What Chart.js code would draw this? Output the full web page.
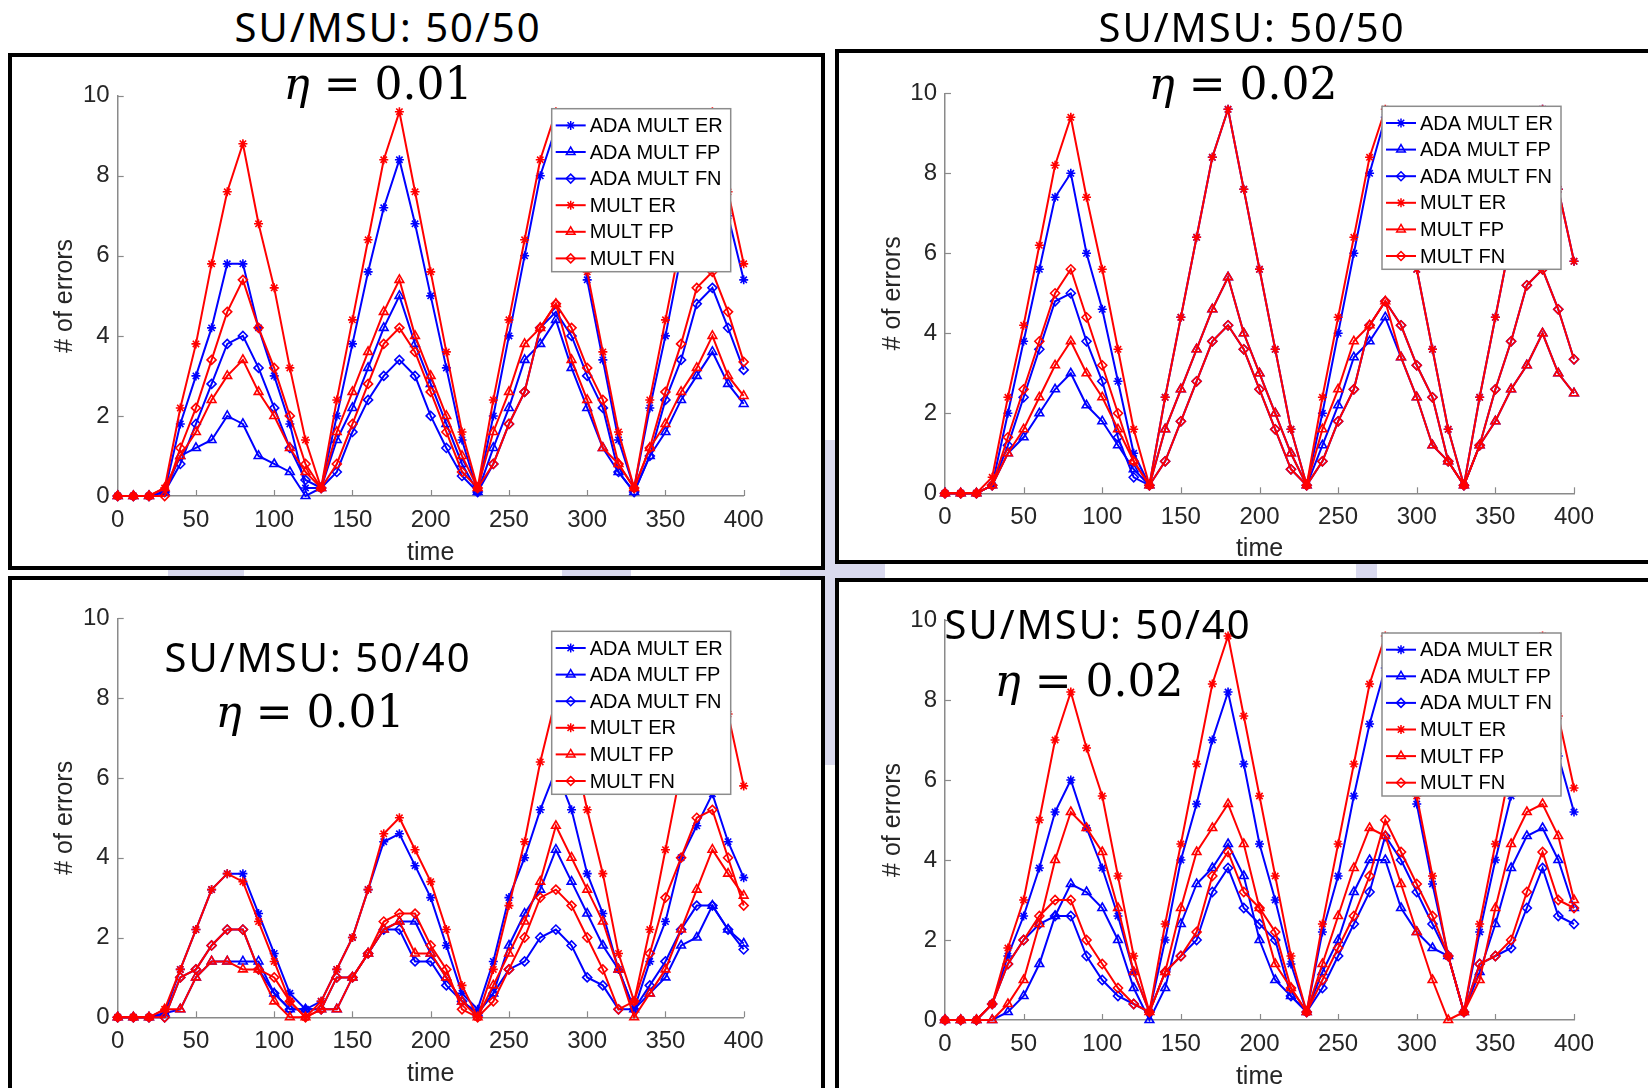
<!DOCTYPE html>
<html>
<head>
<meta charset="utf-8">
<title>Errors over time</title>
<script src="https://cdn.jsdelivr.net/npm/chart.js@4.4.1/dist/chart.umd.min.js"></script>
<style>
  body { margin: 0; }
  #page { position: relative; width: 1648px; height: 1088px; background: #fff; overflow: hidden; }
  .wash { position: absolute; background: #d9d9ee; }
  .frame { position: absolute; box-sizing: border-box; border: 4px solid #000; background: #fff; }
  canvas { position: absolute; }
  .note { position: absolute; transform: translate(-50%, -50%); white-space: nowrap; line-height: 1; color: #000; }
  .set { font-family: "Noto Sans", sans-serif; font-size: 40px; letter-spacing: 2px; }
  .eta { font-family: "DejaVu Serif", serif; font-size: 44px; }
  .eta i { font-style: italic; }
</style>
</head>
<body>
<div id="page">
  <!-- lavender backdrop peeking between the frames -->
  <div class="wash" style="left:168px; top:564px; width:76px; height:16px"></div>
  <div class="wash" style="left:562px; top:564px; width:69px; height:16px"></div>
  <div class="wash" style="left:780px; top:560px; width:105px; height:22px"></div>
  <div class="wash" style="left:1356px; top:560px; width:21px; height:22px"></div>
  <div class="wash" style="left:821px; top:440px; width:18px; height:325px"></div>

  <div class="frame" style="left:8px; top:53px; width:817px; height:517px"></div>
  <div class="frame" style="left:835px; top:49px; width:830px; height:515px"></div>
  <div class="frame" style="left:8px; top:576px; width:817px; height:520px"></div>
  <div class="frame" style="left:835px; top:578px; width:830px; height:520px"></div>

  <canvas id="c1" width="809" height="509" style="left:12px; top:57px"></canvas>
  <canvas id="c2" width="809" height="507" style="left:839px; top:53px"></canvas>
  <canvas id="c3" width="809" height="507" style="left:12px; top:580px"></canvas>
  <canvas id="c4" width="809" height="506" style="left:839px; top:582px"></canvas>

  <div class="note set" style="left:388px; top:27px">SU/MSU: 50/50</div>
  <div class="note set" style="left:1252px; top:27px">SU/MSU: 50/50</div>
  <div class="note eta" style="left:378px; top:84px"><i>η</i> = 0.01</div>
  <div class="note eta" style="left:1243px; top:84px"><i>η</i> = 0.02</div>
  <div class="note set" style="left:318px; top:657px">SU/MSU: 50/40</div>
  <div class="note eta" style="left:310px; top:712px"><i>η</i> = 0.01</div>
  <div class="note set" style="left:1098px; top:624px">SU/MSU: 50/40</div>
  <div class="note eta" style="left:1089px; top:681px"><i>η</i> = 0.02</div>
</div>

<script>
const times = [0, 10, 20, 30, 40, 50, 60, 70, 80, 90,
  100, 110, 120, 130, 140, 150, 160, 170, 180, 190,
  200, 210, 220, 230, 240, 250, 260, 270, 280, 290,
  300, 310, 320, 330, 340, 350, 360, 370, 380, 390, 400];

const seriesNames = ['ADA MULT ER', 'ADA MULT FP', 'ADA MULT FN', 'MULT ER', 'MULT FP', 'MULT FN'];

// SU/MSU 50/50, eta 0.01
const p1AdaEr = [0, 0, 0, 0.1, 1.8, 3.0, 4.2, 5.8, 5.8, 4.2,
  3.0, 1.8, 0.2, 0.2, 2.0, 3.8, 5.6, 7.2, 8.4, 6.8,
  5.0, 3.2, 1.4, 0.1, 2.0, 4.0, 6.0, 8.0, 9.2, 7.4,
  5.4, 3.4, 1.4, 0.2, 2.2, 4.0, 6.0, 8.0, 9.2, 7.0, 5.4];
const p1AdaFp = [0, 0, 0, 0.1, 1.0, 1.2, 1.4, 2.0, 1.8, 1.0,
  0.8, 0.6, 0, 0.2, 1.4, 2.2, 3.2, 4.2, 5.0, 3.8,
  2.8, 1.8, 0.8, 0.1, 1.2, 2.2, 3.4, 3.8, 4.4, 3.2,
  2.2, 1.2, 0.6, 0.1, 1.0, 1.6, 2.4, 3.0, 3.6, 2.8, 2.3];
const p1AdaFn = [0, 0, 0, 0.1, 0.8, 1.8, 2.8, 3.8, 4.0, 3.2,
  2.2, 1.2, 0.4, 0.2, 0.6, 1.6, 2.4, 3.0, 3.4, 3.0,
  2.0, 1.2, 0.5, 0.1, 0.8, 1.8, 2.6, 4.2, 4.6, 4.0,
  3.0, 2.2, 0.6, 0.1, 1.0, 2.4, 3.4, 4.8, 5.2, 4.2, 3.15];
const p1MultEr = [0, 0, 0, 0.2, 2.2, 3.8, 5.8, 7.6, 8.8, 6.8,
  5.2, 3.2, 1.4, 0.2, 2.4, 4.4, 6.4, 8.4, 9.6, 7.6,
  5.6, 3.6, 1.6, 0.2, 2.4, 4.4, 6.4, 8.4, 9.6, 7.6,
  5.6, 3.6, 1.6, 0.2, 2.4, 4.4, 6.4, 8.4, 9.6, 7.6, 5.8];
const p1MultFp = [0, 0, 0, 0.2, 1.0, 1.6, 2.4, 3.0, 3.4, 2.6,
  2.0, 1.2, 0.6, 0.2, 1.6, 2.6, 3.6, 4.6, 5.4, 4.0,
  3.0, 2.0, 1.0, 0.2, 1.6, 2.6, 3.8, 4.2, 4.8, 3.4,
  2.4, 1.2, 0.8, 0.2, 1.2, 1.8, 2.6, 3.2, 4.0, 3.0, 2.5];
const p1MultFn = [0, 0, 0, 0, 1.2, 2.2, 3.4, 4.6, 5.4, 4.2,
  3.2, 2.0, 0.8, 0.2, 0.8, 1.8, 2.8, 3.8, 4.2, 3.6,
  2.6, 1.6, 0.6, 0.2, 0.8, 1.8, 2.6, 4.2, 4.8, 4.2,
  3.2, 2.4, 0.8, 0.2, 1.2, 2.6, 3.8, 5.2, 5.6, 4.6, 3.35];

// SU/MSU 50/50, eta 0.02
const p2AdaEr = [0, 0, 0, 0.2, 2.0, 3.8, 5.6, 7.4, 8.0, 6.0,
  4.6, 2.8, 1.0, 0.2, 2.4, 4.4, 6.4, 8.4, 9.6, 7.6,
  5.6, 3.6, 1.6, 0.2, 2.0, 4.0, 6.0, 8.0, 9.4, 7.6,
  5.6, 3.6, 1.6, 0.2, 2.4, 4.4, 6.4, 8.4, 9.6, 7.6, 5.8];
const p2AdaFp = [0, 0, 0, 0.2, 1.0, 1.4, 2.0, 2.6, 3.0, 2.2,
  1.8, 1.2, 0.6, 0.2, 1.6, 2.6, 3.6, 4.6, 5.4, 4.0,
  3.0, 2.0, 1.0, 0.2, 1.2, 2.2, 3.4, 3.8, 4.4, 3.4,
  2.4, 1.2, 0.8, 0.2, 1.2, 1.8, 2.6, 3.2, 4.0, 3.0, 2.5];
const p2AdaFn = [0, 0, 0, 0.2, 1.2, 2.4, 3.6, 4.8, 5.0, 3.8,
  2.8, 1.4, 0.4, 0.2, 0.8, 1.8, 2.8, 3.8, 4.2, 3.6,
  2.6, 1.6, 0.6, 0.2, 0.8, 1.8, 2.6, 4.2, 4.8, 4.2,
  3.2, 2.4, 0.8, 0.2, 1.2, 2.6, 3.8, 5.2, 5.6, 4.6, 3.35];
const p2MultEr = [0, 0, 0, 0.4, 2.4, 4.2, 6.2, 8.2, 9.4, 7.4,
  5.6, 3.6, 1.6, 0.2, 2.4, 4.4, 6.4, 8.4, 9.6, 7.6,
  5.6, 3.6, 1.6, 0.2, 2.4, 4.4, 6.4, 8.4, 9.6, 7.6,
  5.6, 3.6, 1.6, 0.2, 2.4, 4.4, 6.4, 8.4, 9.6, 7.6, 5.8];
const p2MultFp = [0, 0, 0, 0.2, 1.0, 1.6, 2.4, 3.2, 3.8, 3.0,
  2.4, 1.6, 0.8, 0.2, 1.6, 2.6, 3.6, 4.6, 5.4, 4.0,
  3.0, 2.0, 1.0, 0.2, 1.6, 2.6, 3.8, 4.2, 4.8, 3.4,
  2.4, 1.2, 0.8, 0.2, 1.2, 1.8, 2.6, 3.2, 4.0, 3.0, 2.5];
const p2MultFn = [0, 0, 0, 0.2, 1.4, 2.6, 3.8, 5.0, 5.6, 4.4,
  3.2, 2.0, 0.8, 0.2, 0.8, 1.8, 2.8, 3.8, 4.2, 3.6,
  2.6, 1.6, 0.6, 0.2, 0.8, 1.8, 2.6, 4.2, 4.8, 4.2,
  3.2, 2.4, 0.8, 0.2, 1.2, 2.6, 3.8, 5.2, 5.6, 4.6, 3.35];

// SU/MSU 50/40, eta 0.01
const p3AdaEr = [0, 0, 0, 0.1, 1.2, 2.2, 3.2, 3.6, 3.6, 2.6,
  1.6, 0.6, 0.2, 0.4, 1.2, 2.0, 3.2, 4.4, 4.6, 3.8,
  3.0, 1.8, 0.6, 0.2, 1.4, 3.0, 4.0, 5.2, 6.2, 5.2,
  3.6, 2.6, 1.2, 0.2, 1.4, 2.4, 4.0, 4.8, 5.6, 4.4, 3.5];
const p3AdaFp = [0, 0, 0, 0.1, 0.2, 1.0, 1.4, 1.4, 1.4, 1.4,
  0.6, 0.2, 0.2, 0.2, 0.2, 1.0, 1.6, 2.2, 2.4, 2.4,
  1.6, 1.0, 0.4, 0.1, 0.6, 1.8, 2.6, 3.2, 4.2, 3.4,
  2.6, 1.8, 1.2, 0.2, 0.6, 1.0, 1.8, 2.0, 2.8, 2.2, 1.85];
const p3AdaFn = [0, 0, 0, 0, 1.0, 1.2, 1.8, 2.2, 2.2, 1.2,
  0.6, 0.2, 0.2, 0.2, 1.0, 1.0, 1.6, 2.2, 2.2, 1.4,
  1.4, 0.8, 0.4, 0.1, 0.6, 1.2, 1.4, 2.0, 2.2, 1.8,
  1.0, 0.8, 0.2, 0.2, 0.8, 1.4, 2.2, 2.8, 2.8, 2.2, 1.7];
const p3MultEr = [0, 0, 0, 0.2, 1.2, 2.2, 3.2, 3.6, 3.4, 2.4,
  1.4, 0.4, 0, 0.4, 1.2, 2.0, 3.2, 4.6, 5.0, 4.2,
  3.4, 2.2, 0.8, 0, 1.2, 2.8, 4.4, 6.4, 8.0, 7.0,
  5.2, 3.6, 1.6, 0.4, 2.2, 4.2, 6.2, 8.0, 9.2, 7.6, 5.8];
const p3MultFp = [0, 0, 0, 0.2, 0.2, 1.0, 1.4, 1.4, 1.2, 1.2,
  0.4, 0, 0, 0.2, 0.2, 1.0, 1.6, 2.2, 2.4, 1.6,
  1.6, 1.0, 0.4, 0, 0.8, 1.6, 2.4, 3.4, 4.8, 4.0,
  3.2, 2.4, 1.2, 0, 0.6, 1.2, 2.2, 3.2, 4.2, 3.6, 3.05];
const p3MultFn = [0, 0, 0, 0, 1.0, 1.2, 1.8, 2.2, 2.2, 1.2,
  1.0, 0.4, 0, 0.2, 1.0, 1.0, 1.6, 2.4, 2.6, 2.6,
  1.8, 1.2, 0.2, 0, 0.4, 1.2, 2.0, 3.0, 3.2, 2.8,
  2.0, 1.2, 0.2, 0.4, 1.6, 3.0, 4.0, 5.0, 5.2, 4.0, 2.8];

// SU/MSU 50/40, eta 0.02
const p4AdaEr = [0, 0, 0, 0.4, 1.6, 2.6, 3.8, 5.2, 6.0, 4.8,
  3.8, 2.6, 1.2, 0.2, 2.0, 4.0, 5.4, 7.0, 8.2, 6.4,
  4.4, 3.0, 1.4, 0.2, 2.2, 3.6, 5.6, 7.4, 8.8, 7.2,
  5.4, 3.4, 1.6, 0.2, 2.2, 4.0, 5.6, 7.2, 8.2, 6.6, 5.2];
const p4AdaFp = [0, 0, 0, 0, 0.2, 0.6, 1.4, 2.6, 3.4, 3.2,
  2.8, 2.0, 0.8, 0, 0.8, 2.4, 3.4, 3.8, 4.4, 3.6,
  2.0, 1.0, 0.6, 0.2, 1.2, 2.0, 3.2, 4.0, 4.0, 2.8,
  2.2, 1.8, 1.6, 0.2, 1.2, 2.4, 3.8, 4.6, 4.8, 4.0, 2.8];
const p4AdaFn = [0, 0, 0, 0.4, 1.4, 2.0, 2.4, 2.6, 2.6, 1.6,
  1.0, 0.6, 0.4, 0.2, 1.2, 1.6, 2.0, 3.2, 3.8, 2.8,
  2.4, 2.0, 0.6, 0.2, 0.8, 1.6, 2.4, 3.2, 4.6, 4.0,
  3.2, 2.4, 1.6, 0.2, 1.4, 1.6, 1.8, 2.8, 3.8, 2.6, 2.4];
const p4MultEr = [0, 0, 0, 0.4, 1.8, 3.0, 5.0, 7.0, 8.2, 6.8,
  5.6, 3.6, 1.6, 0.2, 2.4, 4.4, 6.4, 8.4, 9.6, 7.6,
  5.6, 3.6, 1.6, 0.2, 2.4, 4.4, 6.4, 8.4, 9.6, 7.6,
  5.6, 3.6, 1.6, 0.2, 2.4, 4.4, 6.4, 8.4, 9.6, 7.6, 5.8];
const p4MultFp = [0, 0, 0, 0, 0.4, 1.0, 2.4, 4.0, 5.2, 4.8,
  4.2, 2.8, 1.2, 0.2, 1.2, 2.8, 4.2, 4.8, 5.4, 4.4,
  2.8, 1.4, 0.8, 0.2, 1.4, 2.6, 3.8, 4.8, 4.6, 3.4,
  2.2, 1.0, 0, 0.2, 1.0, 2.8, 4.4, 5.2, 5.4, 4.6, 3.0];
const p4MultFn = [0, 0, 0, 0.4, 1.4, 2.0, 2.6, 3.0, 3.0, 2.0,
  1.4, 0.8, 0.4, 0.2, 1.2, 1.6, 2.2, 3.6, 4.2, 3.2,
  2.8, 2.2, 0.8, 0.2, 1.0, 1.8, 2.6, 3.6, 5.0, 4.2,
  3.4, 2.6, 1.6, 0.2, 1.4, 1.6, 2.0, 3.2, 4.2, 3.0, 2.8];

const BLUE = '#0000ff', RED = '#ff0000';
const AXIS = '#8a8a8a', INK = '#262626';
const colors = [BLUE, BLUE, BLUE, RED, RED, RED];
const markers = ['star', 'triangle', 'rectRot', 'star', 'triangle', 'rectRot'];
const markerSize = { star: 4.5, triangle: 5, rectRot: 4.5 };

Chart.defaults.font.family = '"Liberation Sans", Arial, sans-serif';

// MATLAB-style ticks pointing into the axes
const innerTicks = {
  id: 'innerTicks',
  beforeDatasetsDraw(chart) {
    const { ctx } = chart;
    const xs = chart.scales.x, ys = chart.scales.y;
    ctx.save();
    ctx.strokeStyle = AXIS;
    ctx.lineWidth = 1.2;
    xs.ticks.forEach(t => {
      const px = Math.round(xs.getPixelForValue(t.value)) + 0.5;
      ctx.beginPath(); ctx.moveTo(px, ys.bottom); ctx.lineTo(px, ys.bottom - 6); ctx.stroke();
    });
    ys.ticks.forEach(t => {
      const py = Math.round(ys.getPixelForValue(t.value)) + 0.5;
      ctx.beginPath(); ctx.moveTo(xs.left, py); ctx.lineTo(xs.left + 6, py); ctx.stroke();
    });
    ctx.restore();
  }
};

// boxed legend in the top-right corner of the plot area
const boxLegend = {
  id: 'boxLegend',
  afterDatasetsDraw(chart) {
    const { ctx, chartArea } = chart;
    const w = 179, h = 163;
    const x0 = chartArea.right - 13 - w, y0 = chartArea.top + 13;
    ctx.save();
    ctx.fillStyle = '#fff';
    ctx.fillRect(x0, y0, w, h);
    ctx.strokeStyle = '#8c8c8c';
    ctx.lineWidth = 1.5;
    ctx.strokeRect(x0, y0, w, h);
    chart.data.datasets.forEach((ds, i) => {
      const y = y0 + 16.7 + i * 26.6;
      ctx.strokeStyle = ds.borderColor;
      ctx.lineWidth = 2;
      ctx.beginPath(); ctx.moveTo(x0 + 4, y); ctx.lineTo(x0 + 34, y); ctx.stroke();
      ctx.fillStyle = 'rgba(0,0,0,0)';
      ctx.lineWidth = 1.5;
      Chart.helpers.drawPoint(ctx, { pointStyle: ds.pointStyle, radius: ds.pointRadius, borderWidth: 1.5, rotation: 0 }, x0 + 19, y);
      ctx.fillStyle = '#000';
      ctx.font = '20px "Liberation Sans", Arial, sans-serif';
      ctx.textBaseline = 'middle';
      ctx.fillText(ds.label, x0 + 38, y + 1);
    });
    ctx.restore();
  }
};

function drawPanel(id, series, geom) {
  const datasets = series.map((vals, i) => ({
    label: seriesNames[i],
    data: vals.map((v, k) => ({ x: times[k], y: v })),
    borderColor: colors[i],
    backgroundColor: 'rgba(0,0,0,0)',
    borderWidth: 2,
    tension: 0,
    pointStyle: markers[i],
    pointRadius: markerSize[markers[i]],
    pointBorderWidth: 1.6,
    pointBorderColor: colors[i],
    pointBackgroundColor: 'rgba(0,0,0,0)',
    order: series.length - i,
    clip: false
  }));

  new Chart(document.getElementById(id), {
    type: 'line',
    data: { datasets },
    options: {
      responsive: false,
      animation: false,
      events: [],
      layout: { padding: { left: 0, top: geom.top, right: geom.right, bottom: 0 } },
      plugins: { legend: { display: false }, tooltip: { enabled: false } },
      scales: {
        x: {
          type: 'linear', min: 0, max: 400,
          grid: { display: false },
          border: { display: true, color: AXIS, width: 1.5 },
          ticks: { stepSize: 50, autoSkip: false, maxRotation: 0, padding: 2, color: INK, font: { size: 24 } },
          title: { display: true, text: 'time', color: INK, font: { size: 25 }, padding: { top: 0, bottom: geom.xTitle } },
          afterFit: s => { s.height = geom.xAxis; }
        },
        y: {
          min: 0, max: 10,
          grid: { display: false },
          border: { display: true, color: AXIS, width: 1.5 },
          ticks: { stepSize: 2, padding: 0, color: INK, font: { size: 24 } },
          title: { display: true, text: '# of errors', color: INK, font: { size: 25 }, padding: { top: geom.yTitle, bottom: 0 } },
          afterFit: s => { s.width = geom.yAxis; }
        }
      }
    },
    plugins: [innerTicks, boxLegend]
  });
}

drawPanel('c1', [p1AdaEr, p1AdaFp, p1AdaFn, p1MultEr, p1MultFp, p1MultFn],
  { top: 38.7, right: 77.3, yAxis: 105.7, xAxis: 70, yTitle: 38, xTitle: -2 });
drawPanel('c2', [p2AdaEr, p2AdaFp, p2AdaFn, p2MultEr, p2MultFp, p2MultFn],
  { top: 40.3, right: 74, yAxis: 106, xAxis: 66.7, yTitle: 39.5, xTitle: -4 });
drawPanel('c3', [p3AdaEr, p3AdaFp, p3AdaFn, p3MultEr, p3MultFp, p3MultFn],
  { top: 38.3, right: 77.3, yAxis: 105.7, xAxis: 69.7, yTitle: 38, xTitle: -2 });
drawPanel('c4', [p4AdaEr, p4AdaFp, p4AdaFn, p4MultEr, p4MultFp, p4MultFn],
  { top: 38, right: 74, yAxis: 106, xAxis: 68, yTitle: 39.5, xTitle: -4 });
</script>
</body>
</html>
